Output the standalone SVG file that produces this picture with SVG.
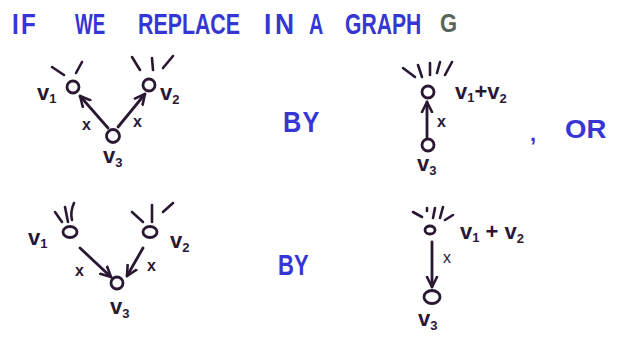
<svg xmlns="http://www.w3.org/2000/svg" width="621" height="339" viewBox="0 0 621 339">
<defs>
<style>
.t{font-family:"Liberation Sans",Arial,sans-serif;fill:#3636d4;font-weight:bold;font-size:22px;}
.lbl{font-family:"Liberation Sans",Arial,sans-serif;fill:#2a1833;font-weight:bold;font-size:22px;}
.sub{font-size:13px;}
.xl{font-family:"Liberation Sans",Arial,sans-serif;fill:#2a1833;font-weight:bold;font-size:16px;}
.nd{fill:none;stroke:#2a1833;stroke-width:2.8;}
.tk{fill:none;stroke:#2a1833;stroke-width:2.6;stroke-linecap:round;}
.ed{fill:none;stroke:#2a1833;stroke-width:2.8;stroke-linecap:round;}
</style>
<marker id="ah" markerUnits="userSpaceOnUse" markerWidth="14" markerHeight="14" refX="11" refY="6" orient="auto" viewBox="0 0 14 12">
<path d="M1,1 L11,6 L1,11" fill="none" stroke="#2a1833" stroke-width="2.6" stroke-linecap="round" stroke-linejoin="round"/>
</marker>
</defs>
<rect width="621" height="339" fill="#ffffff"/>

<g id="title">
<text class="t" transform="translate(12,34) scale(1.1,1.35)" letter-spacing="2">IF</text>
<text class="t" transform="translate(75,34) scale(0.85,1.35)">WE</text>
<text class="t" transform="translate(138,34) scale(0.97,1.35)">REPLACE</text>
<text class="t" transform="translate(264,34) scale(1.2,1.35)" letter-spacing="3">IN</text>
<text class="t" transform="translate(309,34) scale(0.9,1.35)">A</text>
<text class="t" transform="translate(345,34) scale(0.96,1.35)">GRAPH</text>
<text class="t" transform="translate(440,32) scale(1,1.2)" style="fill:#56665a">G</text>
</g>

<g id="words">
<text class="t" transform="translate(283,132) scale(1.15,1.35)" letter-spacing="1">BY</text>
<text class="t" transform="translate(278,275) scale(1,1.35)">BY</text>
<text class="t" transform="translate(530,141)" font-size="28">,</text>
<text class="t" transform="translate(565,138) scale(1.25,1.2)">OR</text>
</g>

<!-- top left graph -->
<g id="tl_v1">
<circle class="nd" cx="73" cy="87" r="6"/>
<path class="tk" d="M52,67 L64,75 M76,73 L82,62"/>
<text class="lbl" x="37" y="100">v<tspan class="sub" dy="3">1</tspan></text>
</g>
<g id="tl_v2">
<circle class="nd" cx="149" cy="85" r="6"/>
<path class="tk" d="M132,57 L140,70 M152,58 L153,70 M163,68 L173,56"/>
<text class="lbl" x="160" y="100">v<tspan class="sub" dy="4">2</tspan></text>
</g>
<g id="tl_v3">
<circle class="nd" cx="113" cy="136" r="6.5"/>
<text class="lbl" x="103" y="163">v<tspan class="sub" dy="4">3</tspan></text>
</g>

<!-- top right graph -->
<g id="tr_v12">
<circle class="nd" cx="428" cy="92" r="6"/>
<path class="tk" d="M403,68 L415,77 M418,65 L422,77 M430,63 L430,75 M440,62 L437,73 M452,62 L445,75"/>
<text class="lbl" x="455" y="99">v<tspan class="sub" dy="3">1</tspan><tspan dy="-3">+v</tspan><tspan class="sub" dy="4">2</tspan></text>
</g>
<g id="tr_v3">
<circle class="nd" cx="428" cy="145" r="6"/>
<text class="lbl" x="417" y="171">v<tspan class="sub" dy="4">3</tspan></text>
</g>

<!-- bottom left graph -->
<g id="bl_v1">
<ellipse class="nd" cx="70" cy="232" rx="7" ry="5.5"/>
<path class="tk" d="M55,212 L62,222 M65,207 L68,222 M74,203 Q70,212 72,220"/>
<text class="lbl" x="28" y="245">v<tspan class="sub" dy="3">1</tspan></text>
</g>
<g id="bl_v2">
<ellipse class="nd" cx="150" cy="232" rx="7" ry="5.5"/>
<path class="tk" d="M132,212 L143,222 M152,205 L152,222 M163,212 L173,203"/>
<text class="lbl" x="170" y="248">v<tspan class="sub" dy="4">2</tspan></text>
</g>
<g id="bl_v3">
<circle class="nd" cx="117" cy="283" r="6"/>
<text class="lbl" x="110" y="314">v<tspan class="sub" dy="4">3</tspan></text>
</g>

<!-- bottom right graph -->
<g id="br_v12">
<ellipse class="nd" cx="430" cy="230" rx="5" ry="4"/>
<path class="tk" d="M413,212 L422,217 M427,208 L427,211 M435,208 L433,218 M443,207 L440,218 M453,215 L445,220"/>
<text class="lbl" x="460" y="239">v<tspan class="sub" dy="3">1</tspan><tspan dy="-3"> + v</tspan><tspan class="sub" dy="4">2</tspan></text>
</g>
<g id="br_v3">
<ellipse class="nd" cx="432" cy="297" rx="8" ry="6.5"/>
<text class="lbl" x="418" y="326">v<tspan class="sub" dy="4">3</tspan></text>
</g>

<g id="connectors">
<line class="ed" x1="108" y1="128" x2="80" y2="96" marker-end="url(#ah)"/>
<line class="ed" x1="118" y1="127" x2="145" y2="94" marker-end="url(#ah)"/>
<line class="ed" x1="427" y1="137" x2="427" y2="102" marker-end="url(#ah)"/>
<line class="ed" x1="80" y1="248" x2="111" y2="277" marker-end="url(#ah)"/>
<line class="ed" x1="143" y1="248" x2="127" y2="276" marker-end="url(#ah)"/>
<line class="ed" x1="432" y1="242" x2="432" y2="287" marker-end="url(#ah)"/>
<text class="xl" x="82" y="130">x</text>
<text class="xl" x="133" y="127">x</text>
<text class="xl" x="437" y="127">x</text>
<text class="xl" x="75" y="276">x</text>
<text class="xl" x="147" y="271">x</text>
<text class="xl" x="443" y="263" style="font-weight:normal">x</text>
</g>
</svg>
